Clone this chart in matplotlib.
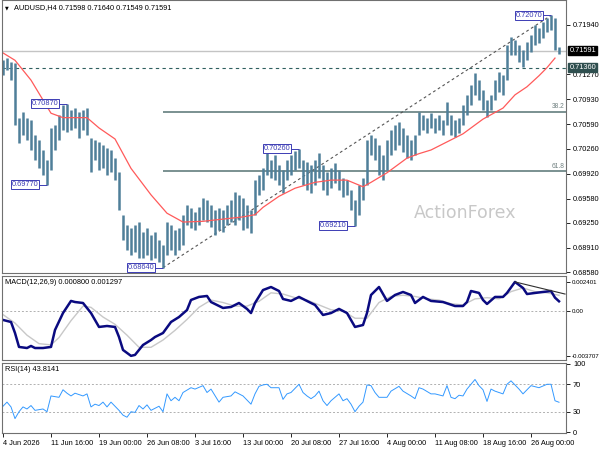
import matplotlib
matplotlib.use('Agg')
import matplotlib.pyplot as plt

plt.rcParams['font.family'] = ['Liberation Sans', 'DejaVu Sans']

BAR, MA_RED, NAVY, BOXC = '#4f7f99', '#ff5a5a', '#0a0a80', '#3c3cb4'

# H4 bars: high / low per bar
hi = [0.7146, 0.7149, 0.7144, 0.7142, 0.7068, 0.7076, 0.7068, 0.7065, 0.7044, 0.7038,
      0.7024, 0.7010, 0.7054, 0.7058, 0.7072, 0.7085, 0.7087, 0.7078, 0.7081, 0.7076,
      0.7078, 0.7081, 0.7040, 0.7038, 0.7035, 0.7031, 0.7027, 0.7024, 0.7013, 0.6994,
      0.6936, 0.6922, 0.6918, 0.6922, 0.6926, 0.6912, 0.6918, 0.6908, 0.6912, 0.6902,
      0.6895, 0.6926, 0.6922, 0.6915, 0.6918, 0.6936, 0.6949, 0.6945, 0.6940, 0.6947,
      0.6959, 0.6956, 0.6949, 0.6942, 0.6945, 0.6942, 0.6949, 0.6956, 0.6967, 0.6963,
      0.6959, 0.6949, 0.6942, 0.6983, 0.6990, 0.6999, 0.7020, 0.7010, 0.7017, 0.7004,
      0.6997, 0.7010, 0.7017, 0.7022, 0.7026, 0.7010, 0.7008, 0.7004, 0.7010, 0.7020,
      0.7004, 0.6994, 0.6999, 0.7006, 0.6997, 0.6986, 0.6983, 0.6970, 0.6956, 0.6977,
      0.6986, 0.7038, 0.7044, 0.7040, 0.7031, 0.7017, 0.7038, 0.7051, 0.7058, 0.7062,
      0.7054, 0.7044, 0.7038, 0.7044, 0.7076, 0.7072, 0.7068, 0.7074, 0.7068, 0.7072,
      0.7065, 0.7089, 0.7072, 0.7065, 0.7068, 0.7085, 0.7099, 0.7112, 0.7129, 0.7119,
      0.7106, 0.7092, 0.7099, 0.7119, 0.7130, 0.7126, 0.7167, 0.7178, 0.7174, 0.7167,
      0.7160, 0.7171, 0.7180, 0.7194, 0.7190, 0.7198, 0.7204, 0.7207, 0.7204, 0.7164]
lo = [0.7126, 0.7133, 0.7119, 0.7058, 0.7034, 0.7044, 0.7038, 0.7024, 0.7010, 0.6999,
      0.6990, 0.6977, 0.6997, 0.7024, 0.7038, 0.7051, 0.7048, 0.7051, 0.7054, 0.7040,
      0.7051, 0.7044, 0.6994, 0.7010, 0.6997, 0.6999, 0.6990, 0.6994, 0.6983, 0.6942,
      0.6902, 0.6888, 0.6881, 0.6885, 0.6877, 0.6877, 0.6881, 0.6874, 0.6877, 0.6872,
      0.6864, 0.6881, 0.6888, 0.6881, 0.6888, 0.6895, 0.6922, 0.6918, 0.6915, 0.6922,
      0.6929, 0.6926, 0.6919, 0.6908, 0.6915, 0.6912, 0.6922, 0.6926, 0.6922, 0.6929,
      0.6915, 0.6918, 0.6911, 0.6936, 0.6963, 0.6970, 0.6990, 0.6986, 0.6983, 0.6977,
      0.6966, 0.6983, 0.6990, 0.6997, 0.6999, 0.6977, 0.6970, 0.6966, 0.6977, 0.6986,
      0.6970, 0.6963, 0.6972, 0.6979, 0.6970, 0.6960, 0.6963, 0.6942, 0.6921, 0.6936,
      0.6956, 0.6977, 0.7017, 0.7010, 0.6990, 0.6983, 0.6997, 0.7017, 0.7024, 0.7031,
      0.7021, 0.7013, 0.7010, 0.7017, 0.7044, 0.7051, 0.7047, 0.7054, 0.7047, 0.7051,
      0.7044, 0.7058, 0.7044, 0.7042, 0.7047, 0.7058, 0.7072, 0.7085, 0.7099, 0.7092,
      0.7078, 0.7069, 0.7078, 0.7092, 0.7103, 0.7099, 0.7119, 0.7153, 0.7153, 0.7144,
      0.7137, 0.7146, 0.7157, 0.7167, 0.7170, 0.7176, 0.7184, 0.7187, 0.7160, 0.7155]

ma_idx = [0, 3, 7, 12, 15, 21, 24, 28, 32, 37, 41, 45, 50, 55, 60, 63, 65, 69, 73, 78,
          82, 86, 90, 92, 96, 101, 104, 107, 111, 115, 120, 125, 128, 131, 134, 136, 138]
ma_val = [0.7156, 0.7146, 0.7119, 0.7074, 0.7068, 0.7068, 0.7054, 0.7039, 0.6999, 0.6963,
          0.6938, 0.6926, 0.6927, 0.6930, 0.6933, 0.6936, 0.6946, 0.6961, 0.6972, 0.6980,
          0.6983, 0.6983, 0.6974, 0.6980, 0.6993, 0.7013, 0.7019, 0.7024, 0.7035, 0.7046,
          0.7066, 0.7081, 0.7099, 0.7110, 0.7125, 0.7136, 0.7149]

price_ticks = [0.71940, 0.71270, 0.70930, 0.70590, 0.70260, 0.69920, 0.69580, 0.69250,
               0.68910, 0.68580]
bid, alert = 0.71591, 0.71360
fib_levels = [0.7076, 0.6995]
fib_names = ['38.2', '61.8']

swing_idx = [16, 11, 40, 74, 88, 137]
swing_val = [0.7087, 0.6977, 0.6864, 0.7026, 0.6921, 0.7207]
swing_txt = ['0.70870', '0.69770', '0.68640', '0.70260', '0.69210', '0.72070']

macd_idx = [0, 2, 3, 4, 6, 7, 8, 10, 12, 13, 15, 17, 18, 20, 22, 24, 26, 28, 29, 30,
            32, 33, 35, 37, 38, 40, 42, 44, 46, 47, 49, 51, 52, 55, 57, 59, 61, 62, 63, 65,
            67, 69, 70, 72, 74, 77, 78, 80, 82, 84, 86, 88, 90, 91, 92, 94, 96, 98, 100, 102,
            103, 105, 107, 110, 113, 115, 116, 117, 119, 120, 121, 123, 125, 126, 128, 130, 131, 133,
            135, 137, 138, 139]
macd_val = [-0.00074, -0.00091, -0.00182, -0.00297, -0.00306, -0.00289, -0.00306, -0.00306,
            -0.00297, -0.00157, -0.00017, 0.00083, 0.00074, 0.00066, -0.00017, -0.00132,
            -0.00124, -0.00132, -0.00215, -0.00322, -0.003707, -0.00363, -0.00281, -0.00240,
            -0.00215, -0.00182, -0.00091, -0.00050, 0.00008, 0.00091, 0.00116, 0.00124,
            0.00074, 0.00025, 0.00033, 0.00066, 0.00017, -0.00017, 0.00066, 0.00173,
            0.00198, 0.00165, 0.00099, 0.00083, 0.00116, 0.00066, 0.00050, -0.00033,
            -0.00017, 0.00017, -0.00017, -0.00132, -0.00116, -0.00017, 0.00132, 0.00198,
            0.00083, 0.00132, 0.00157, 0.00132, 0.00066, 0.00116, 0.00083, 0.00074,
            0.00041, 0.00041, 0.00074, 0.00165, 0.00149, 0.00091, 0.00058, 0.00116,
            0.00116, 0.00149, 0.002401, 0.00190, 0.00140, 0.00149, 0.00157, 0.00165,
            0.00110, 0.00080]
sig_idx = [0, 3, 6, 9, 12, 14, 17, 20, 22, 25, 28, 31, 34, 37, 40, 43, 46, 49, 52, 55,
           58, 61, 64, 67, 70, 73, 76, 79, 82, 85, 88, 91, 94, 97, 100, 103, 106, 109, 112,
           115, 118, 121, 124, 127, 130, 133, 136, 139]
sig_val = [-0.0003, -0.0010, -0.0020, -0.0027, -0.0028, -0.0022, -0.0008, 0.0004, 0.0003,
           -0.0005, -0.0011, -0.0020, -0.0030, -0.0030, -0.0024, -0.0016, -0.0007, 0.0003,
           0.0009, 0.0007, 0.0004, 0.0004, 0.0008, 0.0015, 0.0014, 0.0011, 0.0009, 0.0005,
           0.0001, 0.0000, -0.0006, -0.0006, 0.0007, 0.0012, 0.0013, 0.0012, 0.0010, 0.0009,
           0.0006, 0.0005, 0.0010, 0.0011, 0.0010, 0.0016, 0.0019, 0.0016, 0.0015, 0.001297]
macd_trend_idx = [128, 140.5]
macd_trend_val = [0.002401, 0.0014]

rsi_idx = [0, 1, 2, 3, 4, 5, 6, 7, 8, 10, 11, 12, 14, 15, 16, 17, 18, 20, 21, 22, 23, 24,
           25, 26, 27, 29, 30, 31, 32, 33, 34, 35, 36, 37, 39, 40, 41, 42, 43, 44, 45, 47,
           48, 50, 51, 52, 54, 55, 57, 58, 60, 62, 63, 64, 65, 66, 67, 69, 70, 71, 72, 74,
           75, 76, 77, 78, 79, 80, 81, 82, 83, 84, 85, 86, 87, 88, 89, 90, 91, 92, 93, 94,
           96, 97, 99, 100, 102, 103, 104, 105, 107, 108, 110, 111, 112, 113, 114, 115, 116,
           118, 119, 120, 121, 122, 123, 125, 126, 127, 129, 130, 132, 134, 136, 137, 138, 139]
rsi_val = [38, 44, 37, 20, 30, 37, 34, 39, 32, 34, 30, 53, 51, 62, 57, 53, 57, 53, 56, 37,
           41, 39, 44, 37, 44, 32, 25, 22, 30, 29, 39, 34, 40, 32, 38, 30, 56, 46, 51, 46,
           58, 65, 63, 68, 58, 63, 44, 51, 53, 59, 53, 41, 56, 67, 69, 70, 65, 65, 48, 56,
           58, 70, 58, 53, 49, 53, 60, 46, 39, 46, 51, 56, 46, 49, 41, 30, 38, 44, 69, 68,
           58, 51, 51, 60, 67, 60, 53, 49, 65, 63, 56, 56, 53, 68, 51, 49, 54, 53, 63, 77,
           68, 62, 45, 63, 60, 56, 70, 75, 63, 56, 68, 65, 70, 70, 46, 43.8141]

date_ticks = [0, 12, 24, 36, 48, 60, 72, 84, 96, 108, 120, 132]
date_labels = ['4 Jun 2026', '11 Jun 16:00', '19 Jun 00:00', '26 Jun 08:00', '3 Jul 16:00',
               '13 Jul 00:00', '20 Jul 08:00', '27 Jul 16:00', '4 Aug 00:00', '11 Aug 08:00',
               '18 Aug 16:00', '26 Aug 00:00']

FS = 5.3
W, H = 600, 450
L, R = 2, 566
XL = (-0.25, 140.75)

def panel(top, bottom):
    a = fig.add_axes([L / W, 1 - bottom / H, (R - L) / W, (bottom - top) / H])
    for s in a.spines.values():
        s.set_color('#707070')
        s.set_linewidth(0.8)
    a.yaxis.tick_right()
    a.tick_params(axis='y', length=3, width=0.6, labelsize=FS, pad=2)
    a.set_xlim(*XL)
    return a

fig = plt.figure(figsize=(6, 4.5), dpi=100)

# ---- price panel
ax = panel(0, 273)
ax.set_ylim(0.68567, 0.7228)
ax.axhline(bid, color='#c4c4c4', lw=1)
ax.axhline(alert, color='#2f5f5f', lw=0.8, ls=(0, (3, 3)))
for lvl, nm in zip(fib_levels, fib_names):
    ax.hlines(lvl, swing_idx[2], XL[1], color='#7a9090', lw=1.4)
    ax.text(XL[1] - 0.3, lvl + 0.0002, nm, fontsize=4.8, color='#708080', ha='right', va='bottom')
ax.plot([swing_idx[2], swing_idx[5]], [swing_val[2], swing_val[5]], color='#555555',
        lw=0.8, ls=(0, (2.5, 2.5)))
idx = range(len(hi))
ax.vlines(list(idx), lo, hi, color=BAR, lw=1.8)
ax.plot(ma_idx, ma_val, color=MA_RED, lw=0.9)
for i, v, t in zip(swing_idx, swing_val, swing_txt):
    ax.hlines(v, i - 2.0, i, color=BOXC, lw=0.7)
    ax.text(i - 2.2, v, t, fontsize=FS, color=BOXC, ha='right', va='center',
            bbox=dict(boxstyle='square,pad=0.12', fc='white', ec=BOXC, lw=0.7))
ax.text(0.821, 0.22, 'ActionForex', transform=ax.transAxes, fontsize=12.5,
        color='#c8c8c8', ha='center', va='center', family='DejaVu Sans')
ax.set_xticks([])
ax.set_yticks(price_ticks)
ax.set_yticklabels([f'{p:.5f}' for p in price_ticks])
ytr = ax.get_yaxis_transform()
ax.text(1.006, bid, f'{bid:.5f}', transform=ytr, fontsize=FS, color='white', ha='left',
        va='center', bbox=dict(boxstyle='square,pad=0.15', fc='black', ec='black'), clip_on=False)
ax.text(1.006, alert, f'{alert:.5f}', transform=ytr, fontsize=FS, color='white', ha='left',
        va='center', bbox=dict(boxstyle='square,pad=0.15', fc='#2f4f4f', ec='#2f4f4f'), clip_on=False)
fig.text(5 / W, 1 - 8 / H, '\u25bc', fontsize=3.5, va='center', family='DejaVu Sans')
fig.text(14 / W, 1 - 8 / H, 'AUDUSD,H4 0.71598 0.71640 0.71549 0.71591', fontsize=FS,
         va='center')

# ---- MACD panel
ax2 = panel(276, 360)
ax2.set_ylim(-0.00405, 0.00289)
ax2.axhline(0, color='#b0b0b0', lw=0.7, ls=(0, (2, 2)))
ax2.plot(sig_idx, sig_val, color='#c8c8c8', lw=1)
ax2.plot(macd_idx, macd_val, color=NAVY, lw=1.8)
ax2.plot(macd_trend_idx, macd_trend_val, color='#303030', lw=0.8)
ax2.set_xticks([])
ax2.set_yticks([0.002401, 0.0, -0.003707])
ax2.set_yticklabels(['0.002401', '0.00', '-0.003707'])
ax2.tick_params(axis='y', labelsize=4.4, pad=1)
ax2.text(0.006, 0.92, 'MACD(12,26,9) 0.000800 0.001297', transform=ax2.transAxes,
         fontsize=FS, va='center')

# ---- RSI panel
ax3 = panel(363, 433)
ax3.set_ylim(-1, 101)
for lvl in (70, 30):
    ax3.axhline(lvl, color='#b0b0b0', lw=0.7, ls=(0, (2, 2)))
ax3.plot(rsi_idx, rsi_val, color='#3399ff', lw=0.7)
ax3.set_yticks([100, 70, 30, 0])
ax3.text(0.006, 0.91, 'RSI(14) 43.8141', transform=ax3.transAxes, fontsize=FS, va='center')
ax3.set_xticks(date_ticks)
ax3.set_xticklabels(date_labels, ha='left')
ax3.tick_params(axis='x', length=3, width=0.6, labelsize=FS, pad=2)

fig.savefig('out.png', dpi=100)
